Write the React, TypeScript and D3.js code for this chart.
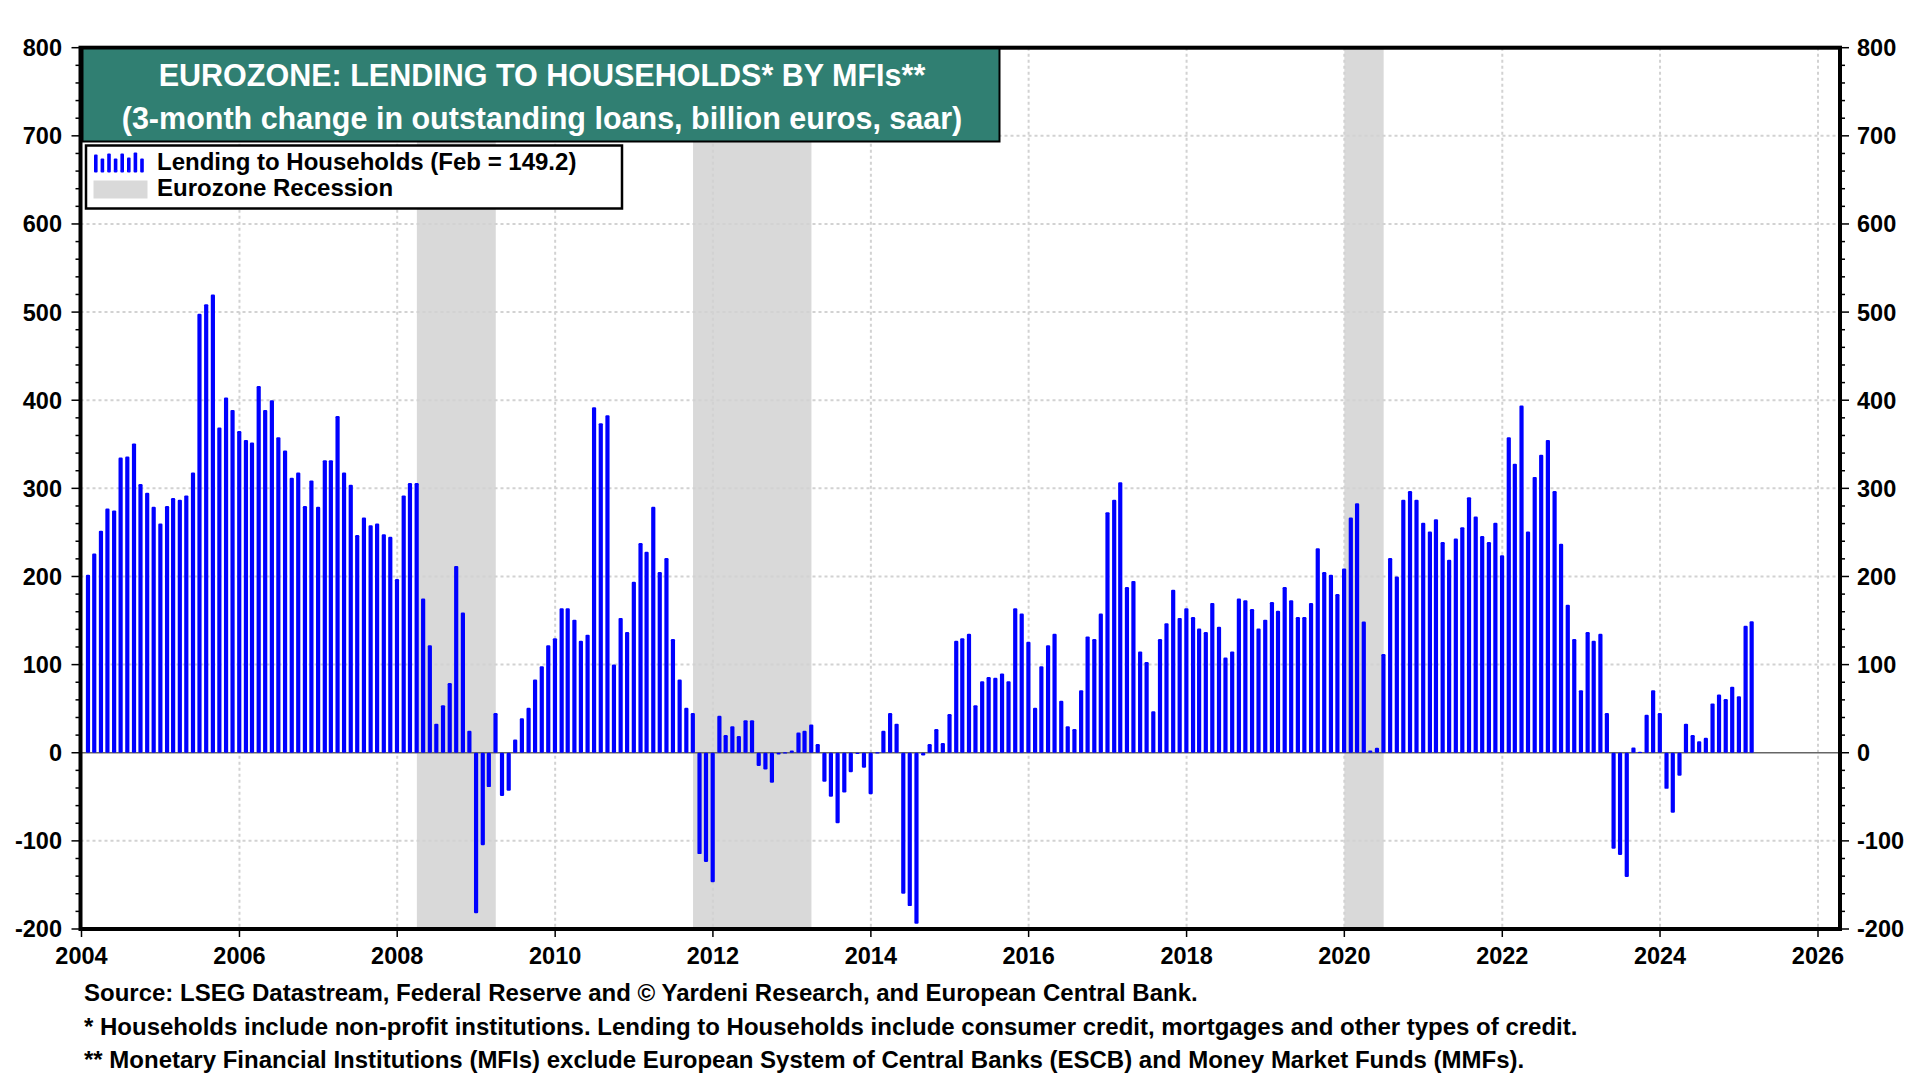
import React, { useEffect, useRef } from 'react';
import * as d3 from 'd3';

// Eurozone lending to households, 3-month change (billion euros, saar), monthly from Jan 2004
const startYear = 2004;
const lendingValues = [
  202, 226, 252, 277, 275, 335, 336, 351, 305, 295, 279, 260, // 2004
  280, 289, 287, 292, 318, 498, 509, 520, 369, 403, 389, 365, // 2005
  355, 352, 416, 389, 400, 358, 343, 312, 318, 280, 309, 279, // 2006
  332, 332, 382, 318, 304, 247, 267, 258, 260, 248, 245, 197, // 2007
  292, 306, 306, 175, 122, 33, 54, 79, 212, 159, 25, -182, // 2008
  -105, -39, 45, -49, -43, 15, 39, 51, 83, 98, 122, 130, // 2009
  164, 164, 151, 127, 134, 392, 374, 383, 100, 153, 137, 194, // 2010
  238, 228, 279, 205, 221, 129, 83, 51, 45, -115, -124, -147, // 2011
  42, 20, 30, 19, 37, 37, -15, -19, -34, -2, 0.5, 2.4, // 2012
  23, 25, 32, 10, -33, -50, -80, -45, -22, -0.5, -17, -47, // 2013
  0.5, 25, 45, 33, -160, -174, -194, -3, 10, 27, 11, 44, // 2014
  127, 130, 135, 54, 81, 86, 85, 90, 81, 164, 158, 126, // 2015
  51, 98, 122, 135, 59, 30, 27, 71, 132, 129, 158, 273, // 2016
  287, 307, 188, 195, 115, 103, 47, 129, 147, 185, 153, 164, // 2017
  154, 141, 137, 170, 143, 108, 115, 175, 173, 163, 141, 151, // 2018
  171, 161, 188, 173, 154, 154, 170, 232, 205, 202, 180, 209, // 2019
  267, 283, 149, 2.4, 5.7, 112, 221, 200, 287, 297, 287, 261, // 2020
  251, 265, 239, 219, 243, 256, 290, 268, 246, 239, 261, 224, // 2021
  358, 328, 394, 251, 313, 338, 355, 297, 237, 168, 129, 71, // 2022
  137, 127, 135, 45, -109, -116, -141, 6, 1, 43, 71, 45, // 2023
  -41, -68, -26, 33, 20, 13, 17, 56, 66, 61, 75, 64, // 2024
  144, 149.2, // 2025
];

const recessions: [string, string][] = [
  ['2008-04-01', '2009-04-01'],
  ['2011-10-01', '2013-04-01'],
  ['2020-01-01', '2020-07-01'],
];

const yTicks = [800, 700, 600, 500, 400, 300, 200, 100, 0, -100, -200];
const xTickYears = [2004, 2006, 2008, 2010, 2012, 2014, 2016, 2018, 2020, 2022, 2024, 2026];
const legendIconHeights = [18, 14, 19, 14, 19, 15, 20, 14];

const titleLines = [
  'EUROZONE: LENDING TO HOUSEHOLDS* BY MFIs**',
  '(3-month change in outstanding loans, billion euros, saar)',
];
const legendLabels = ['Lending to Households (Feb = 149.2)', 'Eurozone Recession'];
const footnotes = [
  'Source: LSEG Datastream, Federal Reserve and \u00a9 Yardeni Research, and European Central Bank.',
  '* Households include non-profit institutions. Lending to Households include consumer credit, mortgages and other types of credit.',
  '** Monetary Financial Institutions (MFIs) exclude European System of Central Banks (ESCB) and Money Market Funds (MMFs).',
];

const FONT = '"Liberation Sans", Arial, Helvetica, sans-serif';
const BLUE = '#0000ff';
const SHADE = '#d9d9d9';
const TEAL = '#307f72';

const App: React.FC = () => {
  const svgRef = useRef<SVGSVGElement>(null);

  useEffect(() => {
    if (!svgRef.current) return;
    const svg = d3.select(svgRef.current);
    svg.selectAll('*').remove();

    const frame = { left: 80.5, right: 1840, top: 47.7, bottom: 929 };

    const x = d3.scaleTime()
      .domain([new Date(2004, 0, 1), new Date(2026, 0, 1)])
      .range([81.5, 1818]);
    const y = d3.scaleLinear().domain([-200, 800]).range([frame.bottom, frame.top]);

    const data = lendingValues.map((v, i) => ({
      date: new Date(startYear, i + 1, 0), // end of month
      value: v,
    }));

    // Recession shading
    svg.append('g')
      .selectAll('rect')
      .data(recessions)
      .enter()
      .append('rect')
      .attr('x', d => x(new Date(d[0])))
      .attr('width', d => x(new Date(d[1])) - x(new Date(d[0])))
      .attr('y', frame.top)
      .attr('height', frame.bottom - frame.top)
      .attr('fill', SHADE);

    // Grid
    const grid = svg.append('g')
      .attr('stroke', '#d2d2d2')
      .attr('stroke-width', 2)
      .attr('stroke-dasharray', '3 3');
    grid.selectAll('.hgrid')
      .data(yTicks.filter(t => t > -200 && t < 800 && t !== 0))
      .enter()
      .append('line')
      .attr('x1', frame.left)
      .attr('x2', frame.right)
      .attr('y1', d => y(d))
      .attr('y2', d => y(d));
    grid.selectAll('.vgrid')
      .data(xTickYears.filter(yr => yr > 2004))
      .enter()
      .append('line')
      .attr('x1', d => x(new Date(d, 0, 1)))
      .attr('x2', d => x(new Date(d, 0, 1)))
      .attr('y1', frame.top)
      .attr('y2', frame.bottom);

    // Zero line
    svg.append('line')
      .attr('x1', frame.left)
      .attr('x2', frame.right)
      .attr('y1', y(0))
      .attr('y2', y(0))
      .attr('stroke', '#666')
      .attr('stroke-width', 1.5);

    // Bars
    const barW = 4.2;
    svg.append('g')
      .selectAll('rect')
      .data(data)
      .enter()
      .append('rect')
      .attr('x', d => x(d.date) - barW / 2)
      .attr('width', barW)
      .attr('y', d => y(Math.max(d.value, 0)))
      .attr('height', d => Math.max(1.2, Math.abs(y(d.value) - y(0))))
      .attr('rx', 1.2)
      .attr('fill', BLUE);

    // Frame
    svg.append('rect')
      .attr('x', frame.left)
      .attr('y', frame.top)
      .attr('width', frame.right - frame.left)
      .attr('height', frame.bottom - frame.top)
      .attr('fill', 'none')
      .attr('stroke', '#000')
      .attr('stroke-width', 4);

    // Y ticks (major + minor) on both sides, x ticks below
    const minor = d3.range(-200, 801, 20);
    const ticks = svg.append('g').attr('stroke', '#000').attr('stroke-width', 1.5);
    [frame.left, frame.right].forEach((ax, side) => {
      const dir = side === 0 ? -1 : 1;
      ticks.append('g')
        .selectAll('line')
        .data(minor)
        .enter()
        .append('line')
        .attr('x1', ax)
        .attr('x2', d => ax + dir * (d % 100 === 0 ? 9 : 5))
        .attr('y1', d => y(d))
        .attr('y2', d => y(d));
    });
    ticks.append('g')
      .selectAll('line')
      .data(xTickYears)
      .enter()
      .append('line')
      .attr('x1', d => x(new Date(d, 0, 1)))
      .attr('x2', d => x(new Date(d, 0, 1)))
      .attr('y1', frame.bottom)
      .attr('y2', frame.bottom + 8);

    const labelStyle = (g: d3.Selection<SVGGElement, unknown, null, undefined>) =>
      g.attr('font-family', FONT).attr('font-weight', 'bold').attr('font-size', 23.5).attr('fill', '#000');

    svg.append('g').call(labelStyle)
      .selectAll('text')
      .data(yTicks)
      .enter()
      .append('text')
      .attr('x', 62)
      .attr('y', d => y(d))
      .attr('dy', '0.36em')
      .attr('text-anchor', 'end')
      .text(d => d);

    svg.append('g').call(labelStyle)
      .selectAll('text')
      .data(yTicks)
      .enter()
      .append('text')
      .attr('x', 1857)
      .attr('y', d => y(d))
      .attr('dy', '0.36em')
      .attr('text-anchor', 'start')
      .text(d => d);

    svg.append('g').call(labelStyle)
      .selectAll('text')
      .data(xTickYears)
      .enter()
      .append('text')
      .attr('x', d => x(new Date(d, 0, 1)))
      .attr('y', 964)
      .attr('text-anchor', 'middle')
      .text(d => d);

    // Title box
    svg.append('rect')
      .attr('x', 82.5)
      .attr('y', 48.5)
      .attr('width', 917)
      .attr('height', 93)
      .attr('fill', TEAL)
      .attr('stroke', '#000')
      .attr('stroke-width', 2);
    svg.append('g')
      .attr('font-family', FONT)
      .attr('font-weight', 'bold')
      .attr('font-size', 30.5)
      .attr('fill', '#fff')
      .attr('text-anchor', 'middle')
      .selectAll('text')
      .data(titleLines)
      .enter()
      .append('text')
      .attr('x', 542)
      .attr('y', (_, i) => 85.5 + i * 43)
      .text(d => d);

    // Legend
    svg.append('rect')
      .attr('x', 86)
      .attr('y', 145.5)
      .attr('width', 536)
      .attr('height', 63)
      .attr('fill', '#fff')
      .attr('stroke', '#000')
      .attr('stroke-width', 2.5);
    svg.append('g')
      .selectAll('rect')
      .data(legendIconHeights)
      .enter()
      .append('rect')
      .attr('x', (_, i) => 94 + i * 6.6)
      .attr('y', d => 172.5 - d)
      .attr('width', 3.6)
      .attr('height', d => d)
      .attr('rx', 1)
      .attr('fill', BLUE);
    svg.append('rect')
      .attr('x', 93.5)
      .attr('y', 180.5)
      .attr('width', 54)
      .attr('height', 18)
      .attr('fill', SHADE);
    svg.append('g')
      .attr('font-family', FONT)
      .attr('font-weight', 'bold')
      .attr('font-size', 24)
      .attr('fill', '#000')
      .selectAll('text')
      .data(legendLabels)
      .enter()
      .append('text')
      .attr('x', 157)
      .attr('y', (_, i) => 170 + i * 26)
      .text(d => d);

    // Footnotes
    svg.append('g')
      .attr('font-family', FONT)
      .attr('font-weight', 'bold')
      .attr('font-size', 24)
      .attr('fill', '#000')
      .selectAll('text')
      .data(footnotes)
      .enter()
      .append('text')
      .attr('x', 84)
      .attr('y', (_, i) => 1001 + i * 33.5)
      .text(d => d);
  }, []);

  return (
    <div style={{ position: 'absolute', left: 0, top: 0, width: 1920, height: 1080, background: '#fff' }}>
      <svg ref={svgRef} width={1920} height={1080} style={{ display: 'block' }} />
    </div>
  );
};

export default App;
